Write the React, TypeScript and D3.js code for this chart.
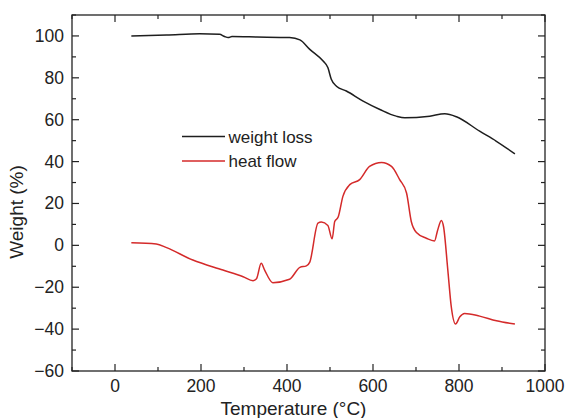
import React from "react";
import * as d3 from "d3";

const weightT = [38, 120, 197, 243, 255, 263, 272, 330, 406, 430, 453, 484, 495, 503, 515, 538, 577, 616, 654, 674, 732, 767, 794, 848, 887, 930];
const weightV = [100.0, 100.4, 101.0, 100.8, 99.7, 99.2, 99.7, 99.5, 99.2, 98.1, 93.6, 88, 84.9, 79.3, 76.0, 73.7, 68.9, 64.9, 61.7, 60.9, 61.7, 62.8, 61.4, 54.5, 49.7, 43.7];

const heatT = [38, 96, 120, 181, 251, 298, 321, 329, 340, 348, 367, 406, 430, 445, 453, 472, 480, 495, 505, 511, 519, 530, 546, 569, 592, 620, 643, 662, 678, 689, 701, 724, 743, 750, 759, 764, 774, 782, 792, 802, 813, 848, 887, 930];
const heatV = [1.3, 0.7, -1.1, -7, -11.8, -15, -16.9, -16, -8.6, -11.8, -17.8, -16.2, -10.5, -9.8, -8, 10.6, 11.1, 9.5, 3.1, 11.4, 13.5, 23.4, 29, 31.4, 37.7, 39.6, 37.7, 31.4, 25, 11.4, 6.1, 3.4, 2.1, 7, 11.9, 9, -11.8, -29.3, -37.6, -34.1, -32.5, -33.8, -36, -37.6];

const xTicks = [0, 200, 400, 600, 800, 1000];
const xMinor = [-100, 100, 300, 500, 700, 900];
const yTicks = [-60, -40, -20, 0, 20, 40, 60, 80, 100];
const yMinor = [-50, -30, -10, 10, 30, 50, 70, 90, 110];

const seriesNames = ["weight loss", "heat flow"];
const seriesColors = ["#1e1e1e", "#d42a2a"];

export default function App() {
  const W = 569, H = 418;
  const left = 72, right = 545, top = 15, bottom = 371;
  const x = d3.scaleLinear().domain([-100, 1000]).range([left, right]);
  const y = d3.scaleLinear().domain([-60, 110]).range([bottom, top]);
  const line = d3.line<[number, number]>().x(d => x(d[0])).y(d => y(d[1])).curve(d3.curveMonotoneX);
  const wData = weightT.map((t, i) => [t, weightV[i]] as [number, number]);
  const hData = heatT.map((t, i) => [t, heatV[i]] as [number, number]);
  const font = "'Liberation Sans', Arial, sans-serif";
  const fs = 17.5;
  const tfs = 19;
  return (
    <svg width={W} height={H} style={{ position: "absolute", left: 0, top: 0, background: "#fff" }} fontFamily={font}>
      <rect x={left} y={top} width={right - left} height={bottom - top} fill="none" stroke="#222" strokeWidth={1.3} />
      {xTicks.map(t => (
        <g key={"xt" + t}>
          <line x1={x(t)} x2={x(t)} y1={bottom} y2={bottom - 7} stroke="#222" strokeWidth={1.2} />
          <line x1={x(t)} x2={x(t)} y1={top} y2={top + 7} stroke="#222" strokeWidth={1.2} />
          <text x={x(t)} y={392} textAnchor="middle" fontSize={fs} fill="#222">{t}</text>
        </g>
      ))}
      {xMinor.map(t => (
        <g key={"xm" + t}>
          <line x1={x(t)} x2={x(t)} y1={bottom} y2={bottom - 4} stroke="#222" strokeWidth={1.2} />
          <line x1={x(t)} x2={x(t)} y1={top} y2={top + 4} stroke="#222" strokeWidth={1.2} />
        </g>
      ))}
      {yTicks.map(t => (
        <g key={"yt" + t}>
          <line x1={left} x2={left + 7} y1={y(t)} y2={y(t)} stroke="#222" strokeWidth={1.2} />
          <line x1={right} x2={right - 7} y1={y(t)} y2={y(t)} stroke="#222" strokeWidth={1.2} />
          <text x={64} y={y(t) + 6} textAnchor="end" fontSize={fs} fill="#222">{t < 0 ? "\u2212" + Math.abs(t) : t}</text>
        </g>
      ))}
      {yMinor.map(t => (
        <g key={"ym" + t}>
          <line x1={left} x2={left + 4} y1={y(t)} y2={y(t)} stroke="#222" strokeWidth={1.2} />
          <line x1={right} x2={right - 4} y1={y(t)} y2={y(t)} stroke="#222" strokeWidth={1.2} />
        </g>
      ))}
      <text x={293.5} y={415} textAnchor="middle" fontSize={tfs} fill="#222">Temperature (°C)</text>
      <text transform={`translate(23, 212) rotate(-90)`} textAnchor="middle" fontSize={tfs} fill="#222">Weight (%)</text>
      <path d={line(wData) || ""} fill="none" stroke={seriesColors[0]} strokeWidth={1.5} />
      <path d={line(hData) || ""} fill="none" stroke={seriesColors[1]} strokeWidth={1.5} />
      {seriesNames.map((n, i) => (
        <g key={n}>
          <line x1={182} x2={225} y1={136.5 + i * 24.5} y2={136.5 + i * 24.5} stroke={seriesColors[i]} strokeWidth={1.5} />
          <text x={228.5} y={136.5 + i * 24.5 + 6} fontSize={17} fill="#222">{n}</text>
        </g>
      ))}
    </svg>
  );
}
